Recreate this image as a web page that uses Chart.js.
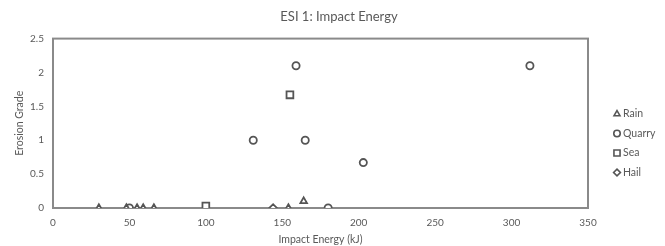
<!DOCTYPE html>
<html>
<head>
<meta charset="utf-8">
<script src="https://cdn.jsdelivr.net/npm/chart.js@4/dist/chart.umd.min.js"></script>
<style>
html,body{margin:0;padding:0;background:#fff;}
#wrap{width:665px;height:246px;position:relative;}
</style>
</head>
<body>
<div id="wrap"><canvas id="c" width="665" height="246"></canvas></div>
<script>
const seriesNames = ["Rain", "Quarry", "Sea", "Hail"];
const rainX = [30, 48, 55, 59, 66, 154, 164];
const rainY = [0, 0, 0, 0, 0, 0, 0.1];
const quarryX = [50, 131, 159, 165, 180, 203, 312];
const quarryY = [0, 1, 2.1, 1, 0, 0.67, 2.1];
const seaX = [100, 155];
const seaY = [0.03, 1.67];
const hailX = [144];
const hailY = [0];
const xTicks = [0, 50, 100, 150, 200, 250, 300, 350];
const yTicks = [0, 0.5, 1, 1.5, 2, 2.5];
const yTickLabels = ["0", "0.5", "1", "1.5", "2", "2.5"];

const FONT = "Lato, 'Open Sans', sans-serif";
const TXT = "#595959";
const MARK = "#555555";
const AXIS = "#8a8a8a";

function pts(xs, ys){ return xs.map((x,i)=>({x:x, y:ys[i]})); }
const styles = ["triangle","circle","rect","rectRot"];
const radii = [3.8, 3.6, 4.8, 3.8];
const dataSets = [pts(rainX,rainY), pts(quarryX,quarryY), pts(seaX,seaY), pts(hailX,hailY)];

const boxPlugin = {
  id:"box",
  beforeDatasetsDraw(chart){
    const {ctx, chartArea:a} = chart;
    ctx.save();
    ctx.strokeStyle = AXIS;
    ctx.lineWidth = 2;
    ctx.strokeRect(a.left, a.top, a.right-a.left, a.bottom-a.top);
    ctx.restore();
  },
  afterDraw(chart){
    const ctx = chart.ctx;
    ctx.save();
    const x0 = 617, y0 = 114, gap = 19.5;
    chart.data.datasets.forEach((ds,i)=>{
      const y = y0 + i*gap;
      ctx.strokeStyle = MARK; ctx.fillStyle = "#fff"; ctx.lineWidth = 1.6;
      Chart.helpers.drawPoint(ctx, {pointStyle: ds.pointStyle, radius: radii[i]*0.9, borderWidth: 1.6, rotation: 0}, x0, y);
      ctx.fillStyle = TXT;
      ctx.font = "10.5px " + FONT;
      ctx.textBaseline = "middle";
      ctx.textAlign = "left";
      ctx.fillText(ds.label, x0 + 6, y);
    });
    ctx.restore();
  }
};

new Chart(document.getElementById("c"), {
  type: "scatter",
  data: {
    datasets: seriesNames.map((n,i)=>({
      label: n,
      data: dataSets[i],
      pointStyle: styles[i],
      pointRadius: radii[i],
      pointHoverRadius: radii[i],
      pointBorderWidth: 1.8,
      borderColor: MARK,
      backgroundColor: "#ffffff",
      pointBorderColor: MARK,
      pointBackgroundColor: "#ffffff"
    }))
  },
  options: {
    responsive: false,
    animation: false,
    devicePixelRatio: 1,
    layout: { padding: { left: 13, right: 0, top: 0, bottom: 0 } },
    plugins: {
      legend: { display: false },
      tooltip: { enabled: false },
      title: {
        display: true,
        text: "ESI 1: Impact Energy",
        color: TXT,
        font: { family: FONT, size: 13, weight: "normal" },
        padding: { top: 9, bottom: 14 }
      }
    },
    scales: {
      x: {
        type: "linear",
        min: 0, max: 350,
        afterBuildTicks(s){ s.ticks = xTicks.map(v=>({value:v})); },
        afterFit(s){ s.height = 38; },
        grid: { display: false, drawTicks: false },
        border: { display: true, color: AXIS, width: 2 },
        ticks: { color: TXT, font: { family: FONT, size: 10 }, padding: 9, maxRotation: 0,
                 callback: (v) => String(v) },
        title: { display: true, text: "Impact Energy (kJ)", color: TXT, font: { family: FONT, size: 10.5 }, padding: { top: 1, bottom: 0 } }
      },
      y: {
        type: "linear",
        min: 0, max: 2.5,
        afterBuildTicks(s){ s.ticks = yTicks.map(v=>({value:v})); },
        afterFit(s){ s.width = 40; },
        grid: { display: false, drawTicks: false },
        border: { display: true, color: AXIS, width: 2 },
        ticks: { color: TXT, font: { family: FONT, size: 10 }, padding: 9,
                 callback: (v) => { const i = yTicks.indexOf(v); return i >= 0 ? yTickLabels[i] : String(v); } },
        title: { display: true, text: "Erosion Grade", color: TXT, font: { family: FONT, size: 10.5 }, padding: { top: 0, bottom: 4 } }
      },
      yRight: {
        type: "linear",
        position: "right",
        min: 0, max: 1,
        afterFit(s){ s.width = 77; },
        grid: { display: false, drawTicks: false },
        border: { display: false },
        ticks: { display: false }
      }
    }
  },
  plugins: [boxPlugin]
});
</script>
</body>
</html>
